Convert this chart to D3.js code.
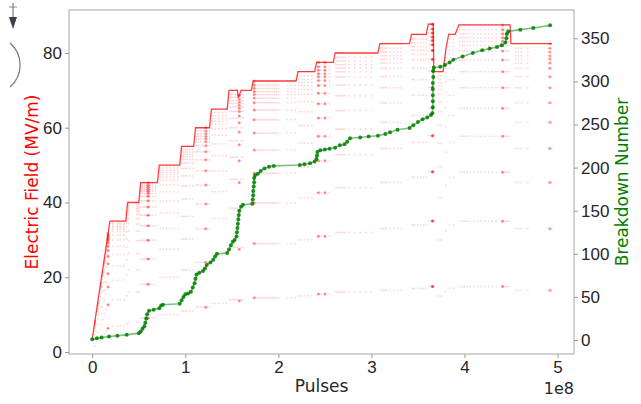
<!DOCTYPE html>
<html>
<head>
<meta charset="utf-8">
<script src="https://cdn.jsdelivr.net/npm/d3@7"></script>
<style>
  body { margin: 0; background: #fff; }
  svg { font-family: "DejaVu Sans", sans-serif; }
  .tick text { font-size: 17px; fill: #262626; }
  .tick line { stroke: #999; }
</style>
</head>
<body>
<div id="chart"></div>
<script>
var width = 641, height = 404;
var plot = {left: 69, right: 574, top: 10, bottom: 354};

// max field envelope (pulses in 1e8, MV/m)
var fieldPulses = [0, 0.19, 0.36, 0.38, 0.5, 0.52, 0.7, 0.72, 0.94, 0.96, 1.09, 1.11, 1.26, 1.28,
  1.45, 1.47, 1.56, 1.57, 1.6, 1.71, 1.73, 2.19, 2.21, 2.39, 2.41, 2.59, 2.61, 3.07, 3.09,
  3.41, 3.43, 3.59, 3.61, 3.665, 3.67, 3.77, 3.8, 3.83, 3.9, 3.94, 4.49, 4.5, 4.94];
var fieldMax = [3.5, 35, 35, 40, 40, 45.3, 45.3, 50, 50, 55, 55, 60, 60, 65,
  65, 70, 70, 68, 70, 70, 72.5, 72.5, 75, 75, 77.5, 77.5, 80, 80, 82.5,
  82.5, 85, 85, 87.7, 87.7, 75, 75, 81, 85, 85, 87.5, 87.5, 82.5, 82.5];

// pulse shape levels seen as faint rows, fraction of the envelope
var pulseLevels = [0.2, 0.4, 0.55, 0.66, 0.745, 0.808, 0.857, 0.893, 0.92, 0.937, 0.95, 0.961, 0.973, 0.985, 1.0];

// where recorded pulses show up as dot columns
var sampleX = [0.03, 0.06, 0.09, 0.11, 0.13, 0.15, 0.17,
  0.22, 0.27, 0.3, 0.34, 0.37, 0.39,
  0.48, 0.5, 0.52, 0.54, 0.56, 0.58, 0.59, 0.6, 0.61, 0.62, 0.65, 0.68,
  0.73, 0.76, 0.8, 0.84, 0.88, 0.92,
  0.96, 0.98, 1.0, 1.02, 1.05, 1.08,
  1.12, 1.14, 1.17, 1.2, 1.23, 1.26,
  1.29, 1.32, 1.36, 1.4, 1.44,
  1.48, 1.5, 1.52, 1.54, 1.56, 1.58, 1.6, 1.62,
  1.74, 1.76, 1.78, 1.8, 1.82, 1.84, 1.86, 1.88, 1.9, 1.92, 1.94, 1.96, 1.98, 2.0,
  2.1, 2.14, 2.18, 2.22, 2.25, 2.28, 2.32, 2.36,
  2.42, 2.44, 2.46, 2.5, 2.55,
  2.62, 2.64, 2.66, 2.68, 2.7, 2.72, 2.76, 2.82, 2.88, 2.94, 3.0,
  3.1, 3.12, 3.14, 3.16, 3.2, 3.24, 3.28, 3.32,
  3.44, 3.46, 3.5, 3.53, 3.56, 3.59,
  3.62, 3.64, 3.655, 3.66, 3.665,
  3.72, 3.75, 3.8, 3.84, 3.88,
  3.95, 3.98, 4.0, 4.03, 4.06, 4.1, 4.14, 4.18, 4.22, 4.26, 4.3, 4.34,
  4.4, 4.42, 4.44, 4.46, 4.48,
  4.55, 4.58, 4.61, 4.68, 4.9];
// columns where many pulses pile up
var denseX = [0.17, 0.6, 1.22, 1.58, 1.74, 2.43, 2.5, 3.66, 3.655, 4.41, 4.92];

// cumulative breakdowns
var breakdownPulses = [0, 0.05, 0.1, 0.18, 0.27, 0.37, 0.5, 0.52, 0.54, 0.56, 0.57, 0.58, 0.59, 0.61,
  0.66, 0.72, 0.74, 0.76, 0.94, 0.96, 0.98, 1.0, 1.03, 1.06, 1.08, 1.1, 1.11, 1.12, 1.15,
  1.19, 1.21, 1.23, 1.27, 1.3, 1.32, 1.34, 1.45, 1.47, 1.49, 1.51, 1.53, 1.55, 1.555, 1.56,
  1.565, 1.57, 1.575, 1.58, 1.6, 1.62, 1.72, 1.725, 1.73, 1.73, 1.735, 1.74, 1.74, 1.75,
  1.78, 1.81, 1.85, 1.9, 1.95, 2.23, 2.28, 2.34, 2.39, 2.41, 2.415, 2.42, 2.45, 2.5, 2.55,
  2.61, 2.66, 2.71, 2.74, 2.77, 2.88, 2.97, 3.07, 3.15, 3.2, 3.28, 3.41, 3.45, 3.5, 3.55,
  3.6, 3.64, 3.655, 3.66, 3.66, 3.66, 3.66, 3.66, 3.665, 3.665, 3.67, 3.74, 3.79, 3.84,
  3.88, 3.98, 4.09, 4.19, 4.27, 4.35, 4.4, 4.44, 4.45, 4.455, 4.47, 4.6, 4.74, 4.92];
var breakdownCount = [1, 2, 3, 4, 5, 6, 8, 10, 13, 16, 20, 25, 30, 34,
  35, 37, 40, 41, 42, 46, 50, 53, 54, 56, 61, 66, 71, 76, 78,
  80, 83, 87, 90, 93, 97, 100, 101, 105, 110, 114, 116, 120, 125, 130,
  135, 140, 145, 150, 155, 157, 158, 163, 168, 173, 178, 183, 188, 191,
  193, 196, 199, 201, 202, 203, 204, 205, 207, 210, 214, 218, 220, 221, 222,
  223, 226, 227, 230, 234, 235, 236, 237, 239, 241, 244, 246, 249, 253, 256,
  258, 261, 263, 270, 277, 284, 291, 298, 305, 312, 316, 317, 319, 322,
  325, 329, 333, 336, 338, 340, 342, 345, 350, 355, 358, 360, 362, 365];

var xTicks = [0, 1, 2, 3, 4, 5];
var fieldTicks = [0, 20, 40, 60, 80];
var countTicks = [0, 50, 100, 150, 200, 250, 300, 350];

var svg = d3.select("#chart").append("svg")
  .attr("width", width)
  .attr("height", height);

var x = d3.scaleLinear().domain([-0.25, 5.177]).range([plot.left, plot.right]);
var yField = d3.scaleLinear().domain([-0.53, 91.5]).range([plot.bottom, plot.top]);
var yCount = d3.scaleLinear().domain([-16.2, 382.8]).range([plot.bottom, plot.top]);
var envelope = d3.scaleLinear().domain(fieldPulses).range(fieldMax);

// faint pulse dots
var dots = [];
sampleX.forEach(function(p) {
  pulseLevels.forEach(function(f) { dots.push([p, envelope(p) * f]); });
});
var dense = [];
denseX.forEach(function(p) {
  pulseLevels.forEach(function(f) { dense.push([p, envelope(p) * f]); });
});

svg.append("g").selectAll("circle")
  .data(dots)
  .enter().append("circle")
  .attr("cx", function(d) { return x(d[0]); })
  .attr("cy", function(d) { return yField(d[1]); })
  .attr("r", 0.9)
  .attr("fill", "red")
  .attr("opacity", 0.17);

svg.append("g").selectAll("circle")
  .data(dense)
  .enter().append("circle")
  .attr("cx", function(d) { return x(d[0]); })
  .attr("cy", function(d) { return yField(d[1]); })
  .attr("r", 1.5)
  .attr("fill", "red")
  .attr("opacity", 0.4);

// envelope line
var fieldLine = d3.line()
  .x(function(d, i) { return x(fieldPulses[i]); })
  .y(function(d) { return yField(d); });
svg.append("path")
  .datum(fieldMax)
  .attr("d", fieldLine)
  .attr("fill", "none")
  .attr("stroke", "red")
  .attr("stroke-opacity", 0.75)
  .attr("stroke-width", 1.3);

// breakdowns
var countLine = d3.line()
  .x(function(d, i) { return x(breakdownPulses[i]); })
  .y(function(d) { return yCount(d); });
svg.append("path")
  .datum(breakdownCount)
  .attr("d", countLine)
  .attr("fill", "none")
  .attr("stroke", "green")
  .attr("stroke-opacity", 0.5)
  .attr("stroke-width", 1.6);
svg.append("g").selectAll("circle")
  .data(breakdownCount)
  .enter().append("circle")
  .attr("cx", function(d, i) { return x(breakdownPulses[i]); })
  .attr("cy", function(d) { return yCount(d); })
  .attr("r", 2)
  .attr("fill", "green")
  .attr("opacity", 0.85);

// frame
svg.append("rect")
  .attr("x", plot.left)
  .attr("y", plot.top)
  .attr("width", plot.right - plot.left)
  .attr("height", plot.bottom - plot.top)
  .attr("fill", "none")
  .attr("stroke", "#bbb")
  .attr("stroke-width", 1.3);

// axes
var gx = svg.append("g")
  .attr("transform", "translate(0," + plot.bottom + ")")
  .call(d3.axisBottom(x).tickValues(xTicks).tickFormat(d3.format("d")).tickSize(4).tickPadding(3));
var gl = svg.append("g")
  .attr("transform", "translate(" + plot.left + ",0)")
  .call(d3.axisLeft(yField).tickValues(fieldTicks).tickSize(4).tickPadding(3));
var gr = svg.append("g")
  .attr("transform", "translate(" + plot.right + ",0)")
  .call(d3.axisRight(yCount).tickValues(countTicks).tickSize(4).tickPadding(3));
[gx, gl, gr].forEach(function(g) {
  g.select(".domain").remove();
  g.selectAll(".tick text").attr("font-family", null).attr("font-size", null);
});

// labels
svg.append("text")
  .text("Pulses")
  .attr("x", (plot.left + plot.right) / 2)
  .attr("y", 392)
  .attr("text-anchor", "middle")
  .attr("font-size", "17px")
  .attr("fill", "#262626");
svg.append("text")
  .text("1e8")
  .attr("x", plot.right)
  .attr("y", 394)
  .attr("text-anchor", "end")
  .attr("font-size", "16px")
  .attr("fill", "#262626");
svg.append("text")
  .text("Electric Field (MV/m)")
  .attr("transform", "translate(38," + (plot.top + plot.bottom) / 2 + ") rotate(-90)")
  .attr("text-anchor", "middle")
  .attr("font-size", "17px")
  .attr("fill", "red");
svg.append("text")
  .text("Breakdown Number")
  .attr("transform", "translate(628," + (plot.top + plot.bottom) / 2 + ") rotate(-90)")
  .attr("text-anchor", "middle")
  .attr("font-size", "17px")
  .attr("fill", "green");

// cropped-in artwork in the top-left corner
svg.append("line")
  .attr("x1", 13).attr("y1", 3).attr("x2", 13).attr("y2", 20)
  .attr("stroke", "#666").attr("stroke-width", 1);
svg.append("line")
  .attr("x1", 9).attr("y1", 7).attr("x2", 17).attr("y2", 7)
  .attr("stroke", "#888").attr("stroke-width", 1);
svg.append("path")
  .attr("d", "M9,17 L17,17 L13,29 Z")
  .attr("fill", "#3a3f4a");
svg.append("path")
  .attr("d", "M10,43 A29,29 0 0 1 10,87")
  .attr("fill", "none")
  .attr("stroke", "#777")
  .attr("stroke-width", 1.2);
</script>
</body>
</html>
